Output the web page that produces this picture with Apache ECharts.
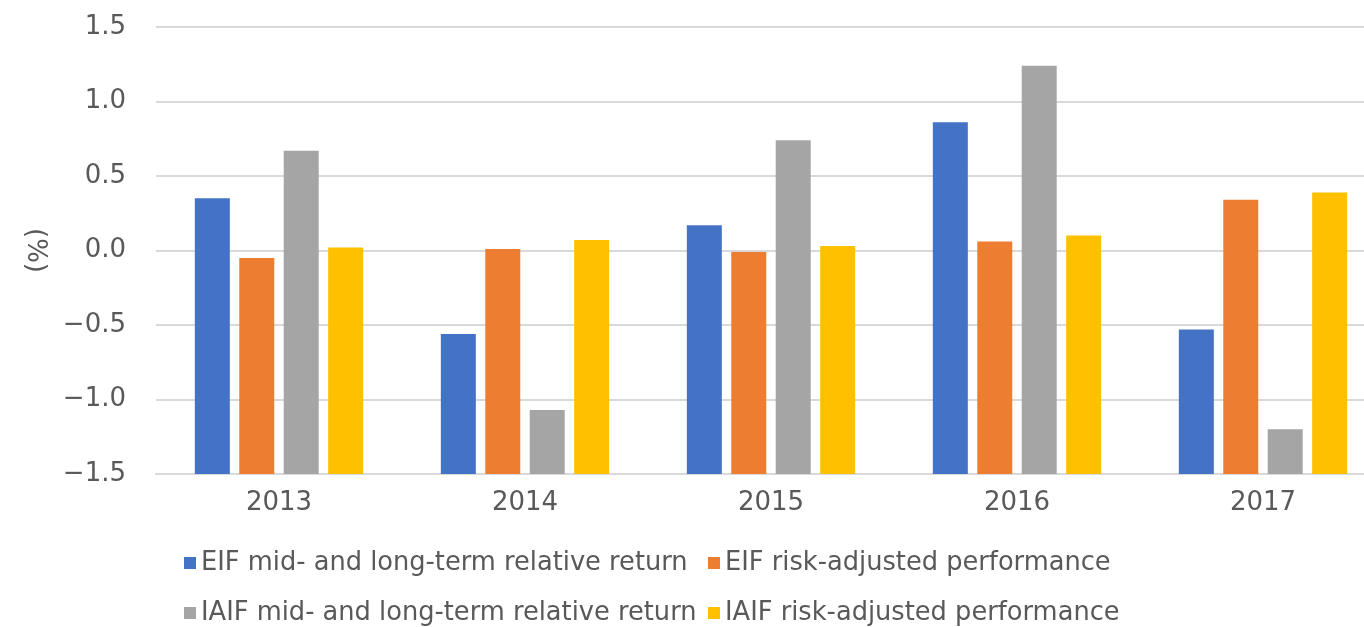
<!DOCTYPE html>
<html>
<head>
<meta charset="utf-8">
<script src="https://cdn.jsdelivr.net/npm/echarts@6/dist/echarts.min.js"></script>
<style>
  html, body { margin: 0; padding: 0; background: #fff; }
  #chart { width: 1364px; height: 627px; }
</style>
</head>
<body>
<div id="chart"></div>
<script>
// years on the x axis
var years = ['2013', '2014', '2015', '2016', '2017'];
// values in %
var eifMidLong = [0.35, -0.56, 0.17, 0.86, -0.53];
var eifRiskAdj = [-0.05, 0.01, -0.01, 0.06, 0.34];
var iaifMidLong = [0.67, -1.07, 0.74, 1.24, -1.20];
var iaifRiskAdj = [0.02, 0.07, 0.03, 0.10, 0.39];
var seriesNames = [
  'EIF mid- and long-term relative return',
  'EIF risk-adjusted performance',
  'IAIF mid- and long-term relative return',
  'IAIF risk-adjusted performance'
];
var colors = ['#4472C4', '#ED7D31', '#A5A5A5', '#FFC000'];
var txt = '#595959';
var fontName = '"DejaVu Sans", sans-serif';

var chart = echarts.init(document.getElementById('chart'));

var values = [eifMidLong, eifRiskAdj, iaifMidLong, iaifRiskAdj];
var series = [];
for (var i = 0; i < values.length; i++) {
  series.push({
    name: seriesNames[i],
    type: 'bar',
    data: values[i],
    barWidth: 35,
    barGap: '27%',
    itemStyle: { color: colors[i] }
  });
}

// one legend per entry so the two columns line up like the original
var legendPos = [[184, 548], [708, 548], [184, 598], [708, 598]];
var legends = [];
for (var j = 0; j < seriesNames.length; j++) {
  legends.push({
    left: legendPos[j][0], top: legendPos[j][1], padding: 0,
    itemWidth: 12, itemHeight: 12, itemGap: 0, icon: 'rect',
    data: [seriesNames[j]],
    textStyle: { color: txt, fontSize: 25.7, fontFamily: fontName, lineHeight: 30 }
  });
}

var option = {
  color: colors,
  animation: false,
  textStyle: { fontFamily: fontName },
  // the plot runs a little past the right edge of the picture
  grid: { left: 156, top: 27, width: 1230, bottom: 153, outerBoundsMode: 'none', containLabel: false },
  legend: legends,
  xAxis: {
    type: 'category',
    data: years,
    axisLine: { onZero: false, lineStyle: { color: '#D9D9D9', width: 2 } },
    axisTick: { show: false },
    axisLabel: { color: txt, fontSize: 26, margin: 16 }
  },
  yAxis: {
    type: 'value',
    min: -1.5,
    max: 1.5,
    interval: 0.5,
    startValue: -1.5,
    name: '(%)',
    nameLocation: 'middle',
    nameRotate: -90,
    nameGap: 108,
    nameTextStyle: { color: txt, fontSize: 26 },
    axisLine: { show: false },
    axisTick: { show: false },
    axisLabel: {
      color: txt, fontSize: 26, margin: 30,
      formatter: function (v) { return v.toFixed(1).replace('-', '\u2212'); }
    },
    splitLine: { lineStyle: { color: '#D9D9D9', width: 2 } }
  },
  series: series
};

chart.setOption(option);
</script>
</body>
</html>
